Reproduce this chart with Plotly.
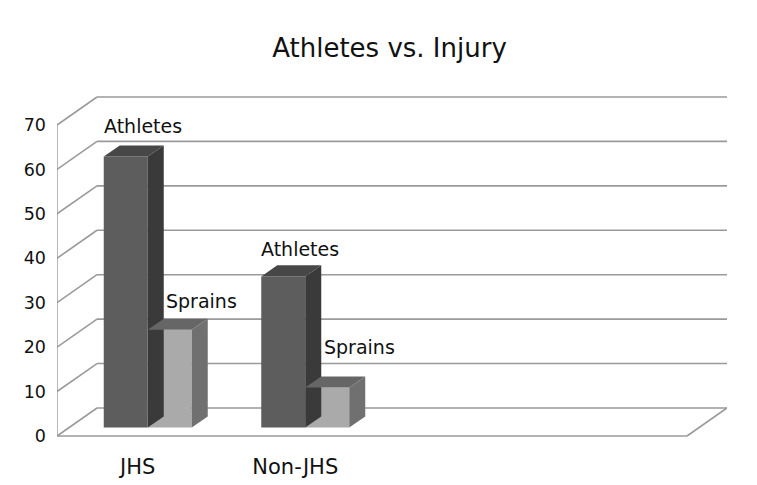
import plotly.graph_objects as go

# ---- data ----
categories = ["JHS", "Non-JHS", "", ""]
series_names = ["Athletes", "Sprains"]
athletes = [61, 34]
sprains = [22, 9]
y_ticks = [0, 10, 20, 30, 40, 50, 60, 70]

# ---- styling / geometry ----
FONT = "DejaVu Sans"
W, H = 757, 485
ML, MR, MT, MB = 57, 30, 90, 40
PX_PER_X = 157.5           # px per category unit
PX_PER_Y = 4.443           # px per value unit
Y0_PX = 436                # pixel row of value 0 on front plane
DEPTH_PX = (40, 28)        # depth offset of back wall (right, up)

DX = DEPTH_PX[0] / PX_PER_X
DY = DEPTH_PX[1] / PX_PER_Y
x_lo = -0.5
x_hi = x_lo + (W - ML - MR) / PX_PER_X
y_hi = (Y0_PX - MT) / PX_PER_Y
y_lo = -((H - MB) - Y0_PX) / PX_PER_Y
n_cat = len(categories)
x_front_r = x_lo + n_cat

grid_col = "#9a9a9a"
front_cols = ["#5d5d5d", "#aaaaaa"]
side_cols = ["#3a3a3a", "#707070"]
top_cols = ["#474747", "#666666"]
label_dx_px = [9, 24]                    # horizontal nudge of data labels per series
label_dy_px = [[19, 16], [18, 29]]       # vertical gap of each data label above its bar

BAR_W = 44 / PX_PER_X
F0, F1 = 0.3, 0.7          # depth fractions occupied by bars

fig = go.Figure()
shapes = []

def line(x0, y0, x1, y1, w=1.6):
    shapes.append(dict(type="line", xref="x", yref="y", x0=x0, y0=y0, x1=x1, y1=y1,
                       line=dict(color=grid_col, width=w), layer="below"))

# back wall gridlines and left-wall diagonals
for v in y_ticks:
    line(x_lo + DX, v + DY, x_hi, v + DY)
    line(x_lo, v, x_lo + DX, v + DY)
# front vertical axis line
line(x_lo, 0, x_lo, max(y_ticks), w=1.4)
# floor front edge and right diagonal
line(x_lo, 0, x_front_r, 0)
line(x_front_r, 0, x_front_r + DX, DY)

all_vals = [athletes, sprains]
annotations = []
for s, vals in enumerate(all_vals):
    xs, bases = [], []
    for i, v in enumerate(vals):
        xc = i + (s - 0.5) * BAR_W + F0 * DX
        xs.append(xc)
        bases.append(F0 * DY)
    fig.add_trace(go.Bar(x=xs, y=vals, base=bases, width=BAR_W,
                         marker=dict(color=front_cols[s], line=dict(width=0)),
                         name=series_names[s], showlegend=False, hoverinfo="skip"))
    ddx = (F1 - F0) * DX
    ddy = (F1 - F0) * DY
    for i, v in enumerate(vals):
        x0 = xs[i] - BAR_W / 2
        x1 = xs[i] + BAR_W / 2
        b = bases[i]
        t = b + v
        # right side face
        fig.add_trace(go.Scatter(x=[x1, x1 + ddx, x1 + ddx, x1, x1],
                                 y=[b, b + ddy, t + ddy, t, b],
                                 fill="toself", fillcolor=side_cols[s], mode="lines",
                                 line=dict(width=0, color=side_cols[s]),
                                 showlegend=False, hoverinfo="skip"))
        # top face
        fig.add_trace(go.Scatter(x=[x0, x0 + ddx, x1 + ddx, x1, x0],
                                 y=[t, t + ddy, t + ddy, t, t],
                                 fill="toself", fillcolor=top_cols[s], mode="lines",
                                 line=dict(width=0, color=top_cols[s]),
                                 showlegend=False, hoverinfo="skip"))
        annotations.append(dict(x=xs[i] + ddx / 2, y=t + ddy,
                                xref="x", yref="y", text=series_names[s],
                                showarrow=False, xshift=label_dx_px[s], yshift=label_dy_px[s][i],
                                xanchor="center", yanchor="middle",
                                font=dict(family=FONT, size=19, color="#111111")))

fig.update_layout(
    width=W, height=H,
    margin=dict(l=ML, r=MR, t=MT, b=MB, pad=0, autoexpand=False),
    paper_bgcolor="white", plot_bgcolor="white",
    barmode="overlay",
    title=dict(text="Athletes vs. Injury", x=389.5 / W, xanchor="center",
               y=1 - 48 / H, yanchor="middle", yref="container",
               font=dict(family=FONT, size=26, color="#111111")),
    xaxis=dict(range=[x_lo, x_hi], tickvals=list(range(n_cat)), ticktext=categories,
               showgrid=False, zeroline=False, showline=False, ticks="",
               tickfont=dict(family=FONT, size=21, color="#111111"),
               ticklabelstandoff=7, ticklabelshift=2, fixedrange=True, automargin=False),
    yaxis=dict(range=[y_lo, y_hi], tickvals=y_ticks, showgrid=False, zeroline=False,
               showline=False, ticks="",
               tickfont=dict(family=FONT, size=17.5, color="#111111"),
               ticklabelstandoff=10, fixedrange=True, automargin=False),
    annotations=annotations,
    shapes=shapes,
)

fig.write_html("out.html")
